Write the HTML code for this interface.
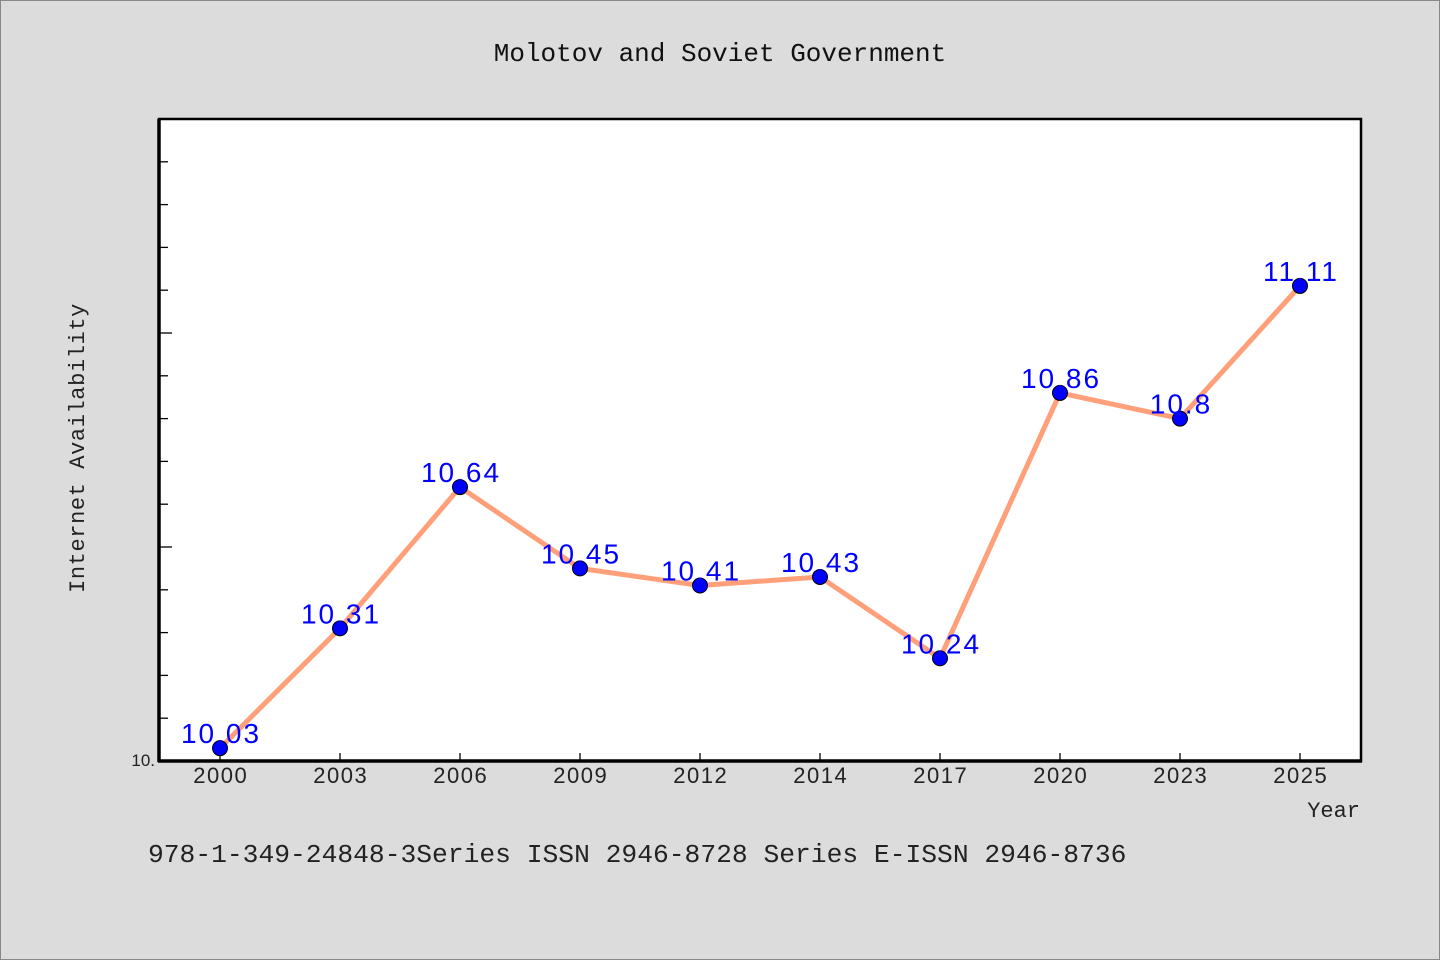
<!DOCTYPE html>
<html><head><meta charset="utf-8"><style>
body{margin:0;background:#dcdcdc;}
svg{display:block;font-family:"Liberation Sans",sans-serif;}
.mono{font-family:"Liberation Mono",monospace;}
</style></head><body>
<svg id="chart" width="1440" height="960" xmlns="http://www.w3.org/2000/svg">
<rect x="0.5" y="0.5" width="1439" height="959" fill="#dcdcdc" stroke="#888"/>
<text class="mono" x="720" y="61" text-anchor="middle" font-size="26" fill="#111">Molotov and Soviet Government</text>
<rect x="159" y="119" width="1202" height="642" fill="#fff" stroke="#000" stroke-width="2.5"/>
<g id="yticks"></g>
<g id="xticks"></g>
<line x1="159" y1="119" x2="159" y2="762" stroke="#000" stroke-width="3.5"/>
<line x1="158" y1="761" x2="1362" y2="761" stroke="#000" stroke-width="3.5"/>
<text x="155" y="766" text-anchor="end" font-size="17" fill="#222">10.</text>
<text class="mono" transform="translate(84,448) rotate(-90)" text-anchor="middle" font-size="22" fill="#222" letter-spacing="0.6">Internet Availability</text>
<text class="mono" x="1360" y="817" text-anchor="end" font-size="22" fill="#222">Year</text>
<g id="series"></g>
<text class="mono" x="148" y="862" font-size="26.3" fill="#222">978-1-349-24848-3Series ISSN 2946-8728 Series E-ISSN 2946-8736</text>
</svg>
<script>
const categories=["2000","2003","2006","2009","2012","2014","2017","2020","2023","2025"];
const values=[10.03,10.31,10.64,10.45,10.41,10.43,10.24,10.86,10.8,11.11];
const valueLabels=["10.03","10.31","10.64","10.45","10.41","10.43","10.24","10.86","10.8","11.11"];
const yMin=10,yMax=11.5;
const NS="http://www.w3.org/2000/svg";
function x(i){return 220+i*120;}
function y(v){return 761-(v-yMin)/(yMax-yMin)*642;}
function mk(t,a,p){const e=document.createElementNS(NS,t);for(const k in a)e.setAttribute(k,a[k]);p.appendChild(e);return e;}
const yt=document.getElementById('yticks');
for(let k=1;k<=14;k++){const v=yMin+k*0.1;const major=k%5===0;
 const l=mk('line',{x1:159,x2:159+(major?13:9),y1:y(v),y2:y(v),stroke:'#000','stroke-width':1.3},yt);
 
 }
const xt=document.getElementById('xticks');
categories.forEach((c,i)=>{
 const l=mk('line',{x1:x(i),x2:x(i),y1:761,y2:753,stroke:'#000','stroke-width':1.3},xt);
 
 
 const t=mk('text',{x:x(i)+0.75,y:783,'text-anchor':'middle','font-size':22,'letter-spacing':1.5,fill:'#222'},xt);
 t.textContent=c;
 
 
});
const s=document.getElementById('series');
const pl=mk('polyline',{points:values.map((v,i)=>x(i)+','+y(v)).join(' '),fill:'none',stroke:'#ffa07a','stroke-width':5,'stroke-linejoin':'round'},s);


values.forEach((v,i)=>{
 const c=mk('circle',{cx:x(i),cy:y(v),r:7.5,fill:'#0000ff',stroke:'#000','stroke-width':1},s);
 
 
 const t=mk('text',{x:x(i)+1,y:y(v)-5,'text-anchor':'middle','font-size':28,'letter-spacing':2,fill:'#0000ff'},s);
 t.textContent=valueLabels[i];
 
 
});
</script>
</body></html>
